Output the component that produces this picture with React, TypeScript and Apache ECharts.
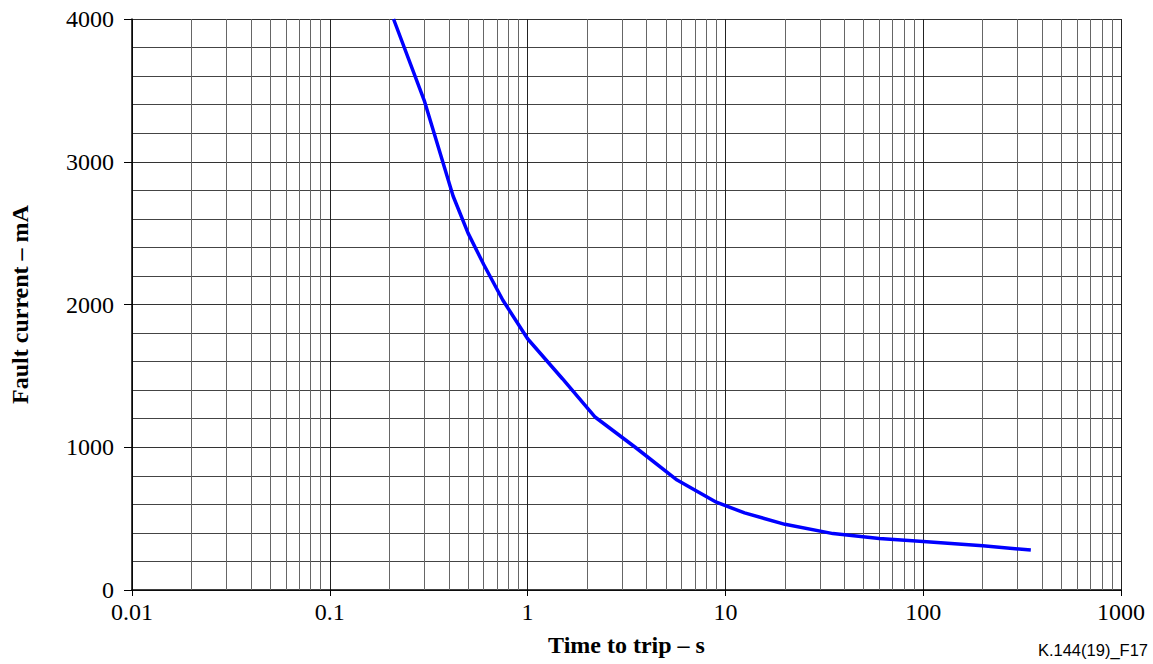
import React, { useEffect, useRef } from "react";
import * as echarts from "echarts";

// Trip characteristic: time to trip (s) vs fault current (mA)
const tripTimes = [0.21, 0.3, 0.42, 0.5, 0.6, 0.75, 1.0, 1.5, 2.2, 3.5, 5.7, 9, 12.5, 20, 35, 60, 100, 200, 350];
const faultCurrents = [4000, 3430, 2760, 2500, 2280, 2030, 1760, 1480, 1210, 1000, 770, 615, 540, 460, 395, 360, 340, 310, 280];

// Log-axis grid: decade starts and the in-between multipliers
const decades = [0.01, 0.1, 1, 10, 100];
const minorMultipliers = [2, 3, 4, 5, 6, 7, 8, 9];

const xTickLabels = ["0.01", "0.1", "1", "10", "100", "1000"];
const yTickLabels = ["0", "1000", "2000", "3000", "4000"];

const SERIF = "'Times New Roman', 'Liberation Serif', 'DejaVu Serif', serif";

export default function App() {
  const ref = useRef<HTMLDivElement>(null);

  useEffect(() => {
    if (!ref.current) return;
    const chart = echarts.init(ref.current, undefined, { renderer: "svg" });

    const minorGrid: number[] = [];
    decades.forEach((d) => minorMultipliers.forEach((m) => minorGrid.push(Number((d * m).toPrecision(3)))));

    const fmtX = (v: number) => {
      const s = Number(v.toPrecision(3)).toString();
      return xTickLabels.includes(s) ? s : "";
    };

    chart.setOption({
      animation: false,
      backgroundColor: "#ffffff",
      grid: { left: 129, right: 32, top: 19, bottom: 74, containLabel: false },
      xAxis: {
        type: "log",
        logBase: 10,
        min: 0.01,
        max: 1000,
        name: "Time to trip – s",
        nameLocation: "middle",
        nameGap: 43,
        nameTextStyle: { fontFamily: SERIF, fontWeight: "bold", fontSize: 24, color: "#000" },
        axisLine: { show: true, lineStyle: { color: "#000", width: 1.5 } },
        axisTick: { show: true, length: 6, inside: false, lineStyle: { color: "#000" } },
        axisLabel: {
          formatter: fmtX,
          fontFamily: SERIF,
          fontSize: 24,
          color: "#000",
          margin: 10,
        },
        splitLine: { show: true, lineStyle: { color: "#222", width: 1 } },
        minorTick: { show: false },
        minorSplitLine: { show: false },
      },
      yAxis: {
        type: "value",
        min: 0,
        max: 4000,
        interval: 1000,
        name: "Fault current – mA",
        nameLocation: "middle",
        nameGap: 100,
        nameTextStyle: { fontFamily: SERIF, fontWeight: "bold", fontSize: 24, color: "#000" },
        axisLine: { show: true, lineStyle: { color: "#000", width: 1.5 } },
        axisTick: { show: true, length: 8, inside: false, lineStyle: { color: "#000" } },
        axisLabel: {
          formatter: (v: number) => (yTickLabels.includes(String(v)) ? String(v) : ""),
          fontFamily: SERIF,
          fontSize: 24,
          color: "#000",
          margin: 18,
        },
        splitLine: { show: true, lineStyle: { color: "#333", width: 1 } },
        minorTick: { show: false, splitNumber: 5 },
        minorSplitLine: { show: true, lineStyle: { color: "#444", width: 1 } },
      },
      series: [
        {
          type: "line",
          data: [],
          z: 1,
          silent: true,
          markLine: {
            silent: true,
            symbol: ["none", "none"],
            label: { show: false },
            lineStyle: { color: "#666", width: 1, type: "solid" },
            emphasis: { disabled: true },
            data: minorGrid.map((v) => ({ xAxis: v })),
          },
        },
        {
          type: "line",
          z: 5,
          data: tripTimes.map((t, i) => [t, faultCurrents[i]]),
          showSymbol: false,
          symbol: "none",
          lineStyle: { color: "#0000ff", width: 3.5 },
          smooth: false,
        },
      ],
      graphic: [
        {
          type: "text",
          right: 5,
          top: 641,
          style: {
            text: "K.144(19)_F17",
            font: "16.5px 'Liberation Sans', Arial, sans-serif",
            fill: "#000",
          },
        },
      ],
    });

    return () => chart.dispose();
  }, []);

  return (
    <div
      ref={ref}
      style={{ position: "fixed", left: 0, top: 0, width: 1153, height: 664, background: "#fff" }}
    />
  );
}
